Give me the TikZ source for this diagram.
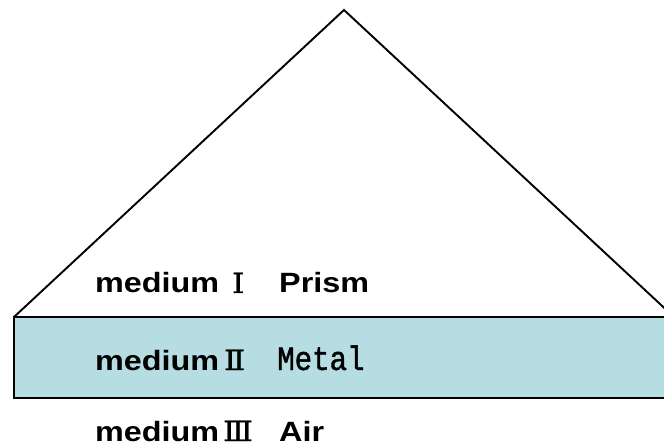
\documentclass[tikz,border=0pt]{standalone}
\usepackage{fontspec}
\newfontfamily\labfont[FakeStretch=1.16]{Liberation Sans}
\newfontfamily\numfont[FakeBold=1.2,FakeStretch=1.1]{DejaVu Serif}
\newfontfamily\monofont[FakeStretch=0.86,FakeBold=1.2]{Liberation Mono}
\definecolor{metalfill}{RGB}{182,221,225}
\begin{document}
\begin{tikzpicture}[x=1bp,y=-1bp,
  edge/.style={draw=black,line width=1.9bp,line join=miter},
  lab/.style={anchor=base west,inner sep=0pt,font=\labfont\bfseries\fontsize{28}{32}\selectfont},
  num/.style={anchor=base west,inner sep=0pt,font=\numfont\fontsize{28}{32}\selectfont},
  mono/.style={anchor=base west,inner sep=0pt,font=\monofont\fontsize{34}{36}\selectfont}]
\useasboundingbox (0,0) rectangle (664,448);
\begin{scope}
\clip (0,0) rectangle (664,448);
\coordinate (apex) at (344,10);
\coordinate (bl) at (14,317);
\coordinate (br) at (674,317);
\fill[metalfill] (14,317) rectangle (690,398);
\draw[edge] (14,317) rectangle (690,398);
\draw[edge] (bl) -- (apex) -- (br);
\end{scope}
\node[lab] (m1) at (95,293) {medium};
\node[num] (n1) at (232,293) {Ⅰ};
\node[lab] (p1) at (279,293) {Prism};
\node[lab] (m2) at (95,370) {medium};
\node[num] (n2) at (224,370) {Ⅱ};
\node[mono] (p2) at (277,370) {Metal};
\node[lab] (m3) at (95,441) {medium};
\node[num] (n3) at (223,441) {Ⅲ};
\node[lab] (p3) at (279,441) {Air};
\end{tikzpicture}
\end{document}
